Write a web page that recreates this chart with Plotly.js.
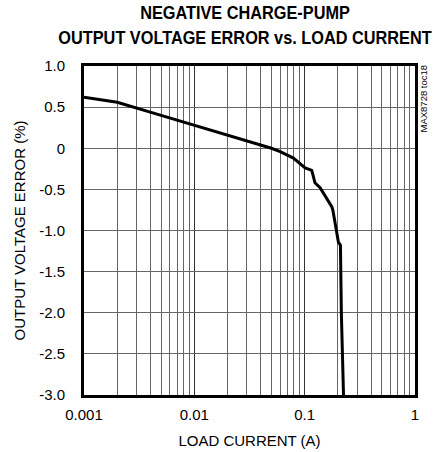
<!DOCTYPE html>
<html>
<head>
<meta charset="utf-8">
<script src="https://cdn.plot.ly/plotly-3.0.1.min.js"></script>
<style>html,body{margin:0;padding:0;background:#fff;}#chart{width:436px;height:452px;}</style>
</head>
<body>
<div id="chart"></div>
<script>
// Load current (A)
const loadCurrent = [0.001, 0.002, 0.005, 0.01, 0.02, 0.03, 0.04, 0.05, 0.06, 0.079, 0.101, 0.116, 0.124, 0.138, 0.176, 0.18, 0.202, 0.211, 0.215, 0.22, 0.225];
// Output voltage error (%)
const voltageError = [0.62, 0.56, 0.40, 0.28, 0.16, 0.09, 0.04, 0.0, -0.04, -0.12, -0.24, -0.27, -0.42, -0.48, -0.71, -0.75, -1.14, -1.18, -2.0, -2.6, -3.0];

const yTickVals = [1.0, 0.5, 0, -0.5, -1.0, -1.5, -2.0, -2.5, -3.0];
const yTickText = ['1.0', '0.5', '0', '-0.5', '-1.0', '-1.5', '-2.0', '-2.5', '-3.0'];
const xTickVals = [0.001, 0.01, 0.1, 1];
const xTickText = ['0.001', '0.01', '0.1', '1'];
const xMinorVals = [];
[0.001, 0.01, 0.1].forEach(d => { for (let k = 2; k <= 9; k++) xMinorVals.push(d * k); });

const tickFont = {family: 'Liberation Sans, Arial', size: 15, color: '#000'};

const trace = {
  x: loadCurrent, y: voltageError, type: 'scatter', mode: 'lines',
  line: {color: '#000', width: 3, shape: 'linear'},
  hoverinfo: 'skip'
};

const layout = {
  width: 436, height: 452,
  margin: {l: 84, r: 21, t: 66, b: 57, pad: 0},
  paper_bgcolor: '#fff', plot_bgcolor: '#fff',
  showlegend: false,
  title: {
    text: '<b>NEGATIVE CHARGE-PUMP<br>OUTPUT VOLTAGE ERROR vs. LOAD CURRENT</b>',
    font: {family: 'Liberation Sans, Arial', size: 19, color: '#000'},
    xref: 'container', x: 245 / 436, xanchor: 'center',
    yref: 'container', y: 1 - 19 / 452, yanchor: 'top'
  },
  xaxis: {
    type: 'log', range: [-3, 0],
    tickmode: 'array', tickvals: xTickVals, ticktext: xTickText,
    showgrid: true, gridcolor: '#333', gridwidth: 1,
    minor: {tickmode: 'array', tickvals: xMinorVals, showgrid: true, gridcolor: '#666', gridwidth: 1, ticks: ''},
    ticks: '', showline: true, mirror: true, linecolor: '#000', linewidth: 3,
    zeroline: false, tickfont: tickFont, ticklabelstandoff: 4,
    title: {text: 'LOAD CURRENT (A)', font: tickFont, standoff: 14}
  },
  yaxis: {
    range: [-3, 1],
    tickmode: 'array', tickvals: yTickVals, ticktext: yTickText,
    showgrid: true, gridcolor: '#666', gridwidth: 1,
    ticks: '', showline: true, mirror: true, linecolor: '#000', linewidth: 3,
    zeroline: false, tickfont: tickFont, ticklabelstandoff: 13,
    title: {text: 'OUTPUT VOLTAGE ERROR (%)', font: tickFont, standoff: 10}
  },
  annotations: [{
    text: 'MAX8728 toc18', xref: 'paper', yref: 'paper', x: 1.0, y: 1.0,
    xanchor: 'left', yanchor: 'top', xshift: 0, yshift: 3, textangle: -90, showarrow: false,
    font: {family: 'Liberation Sans, Arial', size: 9.5, color: '#000'}
  }]
};

const gd = document.getElementById('chart');
Plotly.newPlot(gd, [trace], layout, {staticPlot: true, displayModeBar: false}).then(() => {
  // condense the bold title horizontally, like the narrow font in the reference
  const t = gd.querySelector('.g-gtitle text');
  if (t) {
    const bb = t.getBBox();
    const s = 374 / bb.width;
    const cx = 245;
    const prev = t.getAttribute('transform') || '';
    t.setAttribute('transform', `translate(${cx},0) scale(${s},1) translate(${-cx},0) ${prev}`);
  }
});
</script>
</body>
</html>
